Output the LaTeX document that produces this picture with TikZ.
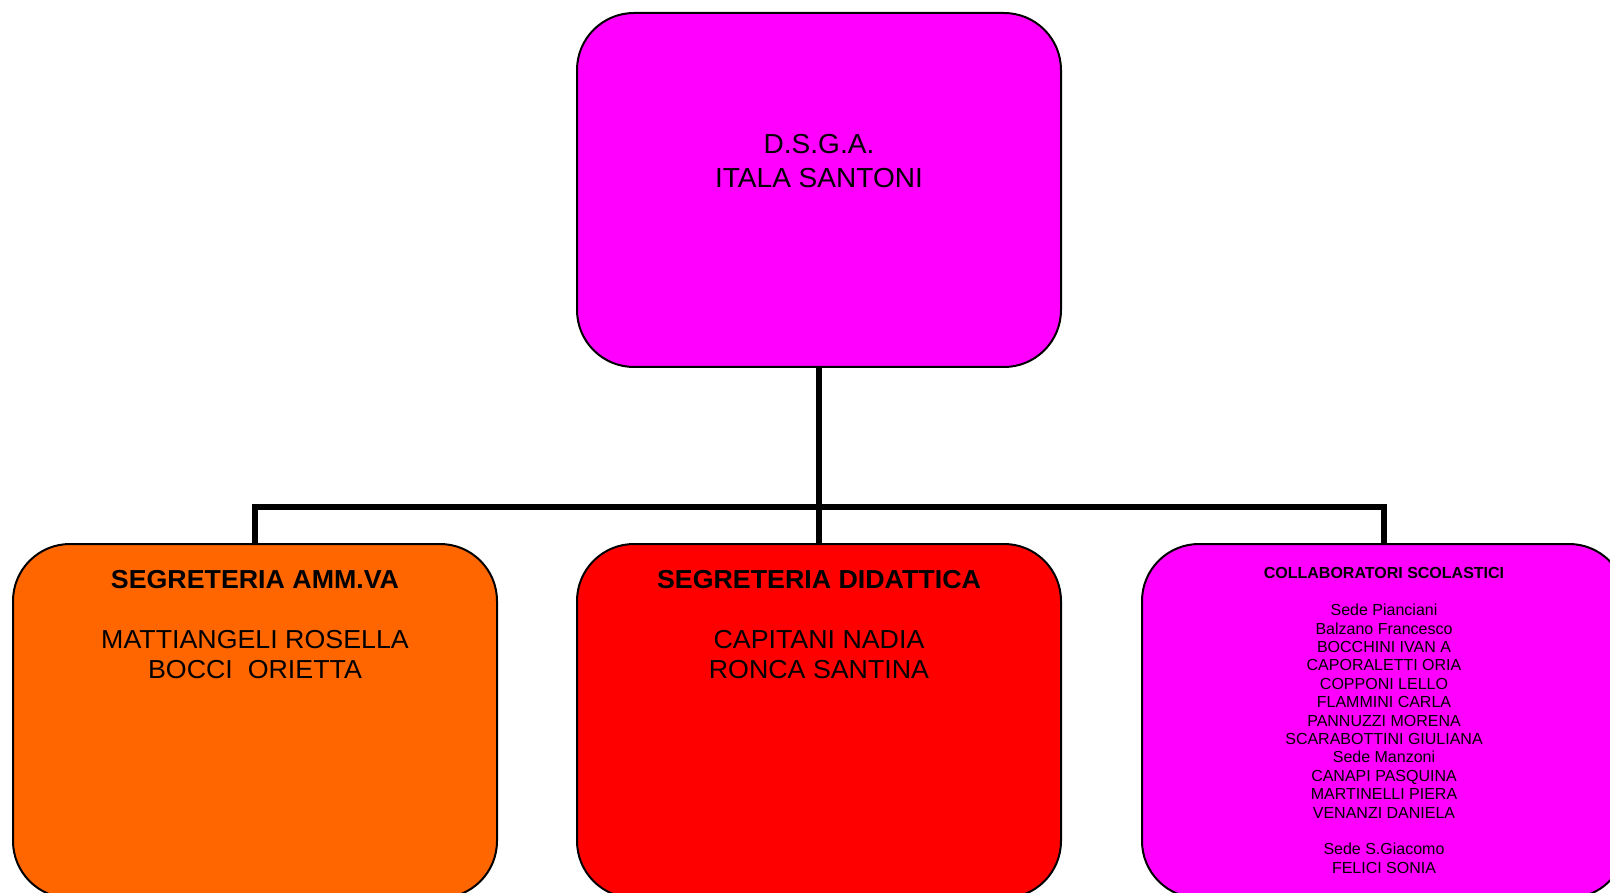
\documentclass[tikz,border=0pt]{standalone}
\usepackage{fontspec}
\setmainfont{Liberation Sans}
\newfontfamily\widefont[FakeStretch=1.03]{Liberation Sans}
\newfontfamily\widerfont[FakeStretch=1.02]{Liberation Sans}
\definecolor{pinkbox}{RGB}{255,0,255}
\definecolor{orangebox}{RGB}{255,102,0}
\definecolor{redbox}{RGB}{255,0,0}
\begin{document}
\begin{tikzpicture}[x=1pt,y=-1pt,
  box/.style={draw=black, line width=2pt, rounded corners=57pt, minimum width=484pt, minimum height=354pt, inner sep=0pt},
  link/.style={line width=5.5pt, draw=black},
  bigtxt/.style={align=center, inner sep=0pt, anchor=north, font=\widerfont\fontsize{27.5}{33.4}\selectfont},
  midtxt/.style={align=center, inner sep=0pt, anchor=north, font=\widefont\fontsize{26}{30}\selectfont},
  smalltxt/.style={align=center, inner sep=0pt, anchor=north, font=\fontsize{16}{18.4}\selectfont}]
\clip (0,0) rectangle (1610,893);
\fill[white] (0,0) rectangle (1610,893);
% boxes
\node[box, fill=pinkbox] (top) at (819,190) {};
\node[box, fill=orangebox] (left) at (255,721) {};
\node[box, fill=redbox] (mid) at (819,721) {};
\node[box, fill=pinkbox] (right) at (1384,721) {};
% connectors
\coordinate (bar) at (819,507);
\draw[link] (top.south) -- (bar);
\draw[link] (left.north) |- (bar) -| (right.north);
\draw[link] (bar) -- (mid.north);
% texts
\node[bigtxt] (topT) at (819,134.6) {D.S.G.A.\\ITALA SANTONI};
\node[midtxt] (leftT) at (255,570.4) {\textbf{SEGRETERIA AMM.VA}\\[30pt]MATTIANGELI ROSELLA\\BOCCI\ \ ORIETTA};
\node[midtxt] (midT) at (819,570.4) {\textbf{SEGRETERIA DIDATTICA}\\[30pt]CAPITANI NADIA\\RONCA SANTINA};
\node[smalltxt] (rightT) at (1384,567.5) {{\fontsize{16}{18.4}\selectfont\bfseries COLLABORATORI SCOLASTICI}\\[18.4pt]
Sede Pianciani\\Balzano Francesco\\BOCCHINI IVAN A\\CAPORALETTI ORIA\\COPPONI LELLO\\FLAMMINI CARLA\\PANNUZZI MORENA\\SCARABOTTINI GIULIANA\\Sede Manzoni\\CANAPI PASQUINA\\MARTINELLI PIERA\\VENANZI DANIELA\\[18.4pt]
Sede S.Giacomo\\FELICI SONIA};
\end{tikzpicture}
\end{document}
